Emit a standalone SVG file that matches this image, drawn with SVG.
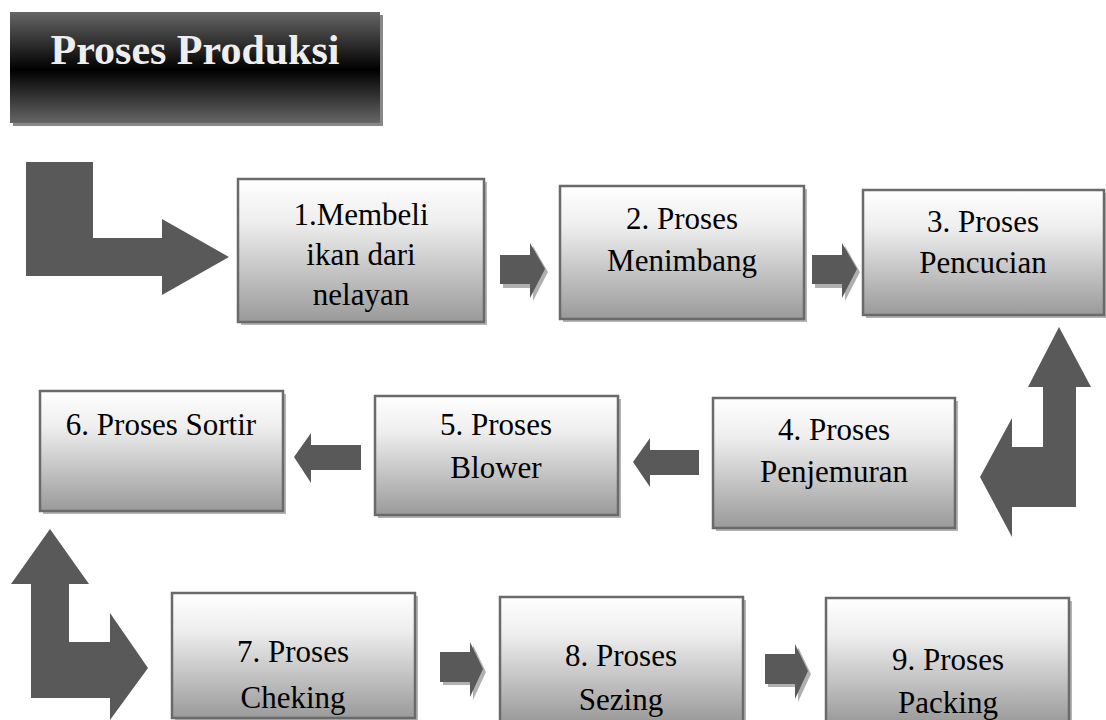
<svg xmlns="http://www.w3.org/2000/svg" width="1106" height="720" viewBox="0 0 1106 720">
<defs>
<linearGradient id="boxg" x1="0" y1="0" x2="0" y2="1">
<stop offset="0" stop-color="#ffffff"/>
<stop offset="0.3" stop-color="#eeeeee"/>
<stop offset="1" stop-color="#9a9a9a"/>
</linearGradient>
<linearGradient id="titleg" x1="0" y1="0" x2="0" y2="1">
<stop offset="0" stop-color="#666666"/>
<stop offset="0.52" stop-color="#000000"/>
<stop offset="1" stop-color="#666666"/>
</linearGradient>
<style>
.box{fill:url(#boxg);stroke:#6a6a6a;stroke-width:2.5}
.sh{fill:#b4b4b4}
.arr{fill:#595959}
.ash{fill:#b0b0b0}
.t{font-family:"Liberation Serif","Times New Roman",serif;font-size:31px;fill:#000;text-anchor:middle}
</style>
</defs>
<g id="title">
<rect x="13" y="15" width="370" height="111" fill="#888888"/>
<rect x="10" y="12" width="370" height="111" fill="url(#titleg)"/>
<text x="195" y="64" font-family="Liberation Serif,Times New Roman,serif" font-weight="bold" font-size="42" fill="#eeeeee" text-anchor="middle">Proses Produksi</text>
</g>
<g id="connectors">
<polygon class="arr" points="26,162 93,162 93,238 162,238 162,219 229,257 162,295 162,276 26,276"/>
<polygon class="ash" points="503,258 533,258 533,246 548,272 533,301 533,288 503,288"/>
<polygon class="arr" points="500,255 530,255 530,243 545,269 530,298 530,284 500,284"/>
<polygon class="ash" points="815,258 845,258 845,246 860,272 845,301 845,288 815,288"/>
<polygon class="arr" points="812,255 842,255 842,243 857,269 842,298 842,284 812,284"/>
<polygon class="arr" points="1059,327 1091,387 1076,387 1076,507 1012,507 1012,537 980,477 1012,418 1012,447 1043,447 1043,387 1028,387"/>
<polygon class="arr" points="633,462 650,438 650,450 699,450 699,475 650,475 650,487"/>
<polygon class="arr" points="294,457 311,433 311,445 361,445 361,470 311,470 311,483"/>
<polygon class="arr" points="50,529 89,584 69,584 69,642 110,642 110,613 148,668 110,720 110,698 31,698 31,584 11,584"/>
<polygon class="ash" points="443,655 473,655 473,645 486,672 473,700 473,685 443,685"/>
<polygon class="arr" points="440,652 470,652 470,642 483,669 470,697 470,682 440,682"/>
<polygon class="ash" points="768,657 798,657 798,647 811,674 798,702 798,687 768,687"/>
<polygon class="arr" points="765,654 795,654 795,644 808,671 795,699 795,684 765,684"/>
</g>
<g id="n1"><rect class="sh" x="241" y="182" width="246" height="143"/><rect class="box" x="238" y="179" width="246" height="143"/>
<text class="t" x="361" y="225">1.Membeli</text><text class="t" x="361" y="265">ikan dari</text><text class="t" x="361" y="305">nelayan</text></g>
<g id="n2"><rect class="sh" x="563" y="189" width="244" height="133"/><rect class="box" x="560" y="186" width="244" height="133"/>
<text class="t" x="682" y="229">2. Proses</text><text class="t" x="682" y="271">Menimbang</text></g>
<g id="n3"><rect class="sh" x="866" y="193" width="241" height="125"/><rect class="box" x="863" y="190" width="241" height="125"/>
<text class="t" x="983" y="232">3. Proses</text><text class="t" x="983" y="273">Pencucian</text></g>
<g id="n4"><rect class="sh" x="716" y="401" width="242" height="130"/><rect class="box" x="713" y="398" width="242" height="130"/>
<text class="t" x="834" y="440">4. Proses</text><text class="t" x="834" y="482">Penjemuran</text></g>
<g id="n5"><rect class="sh" x="378" y="399" width="243" height="119"/><rect class="box" x="375" y="396" width="243" height="119"/>
<text class="t" x="496" y="435">5. Proses</text><text class="t" x="496" y="478">Blower</text></g>
<g id="n6"><rect class="sh" x="43" y="394" width="243" height="120"/><rect class="box" x="40" y="391" width="243" height="120"/>
<text class="t" x="161" y="435">6. Proses Sortir</text></g>
<g id="n7"><rect class="sh" x="175" y="596" width="243" height="125"/><rect class="box" x="172" y="593" width="243" height="125"/>
<text class="t" x="293" y="662">7. Proses</text><text class="t" x="293" y="708">Cheking</text></g>
<g id="n8"><rect class="sh" x="503" y="600" width="243" height="125"/><rect class="box" x="500" y="597" width="243" height="125"/>
<text class="t" x="621" y="666">8. Proses</text><text class="t" x="621" y="710">Sezing</text></g>
<g id="n9"><rect class="sh" x="829" y="601" width="243" height="125"/><rect class="box" x="826" y="598" width="243" height="125"/>
<text class="t" x="948" y="670">9. Proses</text><text class="t" x="948" y="713">Packing</text></g>
</svg>
